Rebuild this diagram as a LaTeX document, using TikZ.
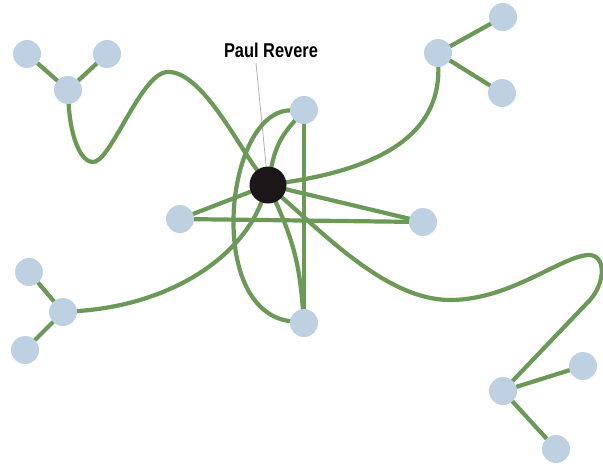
\documentclass[tikz,border=0pt]{standalone}
\usepackage{fontspec}
\newfontfamily\labfont{Liberation Sans}
\usetikzlibrary{backgrounds}
\definecolor{edgegreen}{HTML}{6A9A56}
\definecolor{nodeblue}{HTML}{BDD1E3}
\definecolor{hubblack}{HTML}{1B1718}
\tikzset{
  leaf/.style={circle,fill=nodeblue,draw=none,minimum size=28pt,inner sep=0pt},
  hub/.style={circle,fill=hubblack,draw=none,minimum size=37pt,inner sep=0pt},
  link/.style={draw=edgegreen,line width=4.2pt,line cap=round},
  pointer/.style={draw=black!30,line width=0.8pt},
  lbl/.style={inner sep=0pt,font=\labfont\bfseries\fontsize{20}{22}\selectfont}
}
\begin{document}
\begin{tikzpicture}[x=1pt,y=-1pt]
\useasboundingbox (0,0) rectangle (603,466);
% nodes
\node[hub]  (c)  at (268,185) {};
\node[leaf] (t)  at (304,110) {};
\node[leaf] (l)  at (180,219) {};
\node[leaf] (r)  at (423,222) {};
\node[leaf] (b)  at (304,323) {};
\node[leaf] (tlh) at (68,90) {};
\node[leaf] (tla) at (27,54) {};
\node[leaf] (tlb) at (107,54) {};
\node[leaf] (trh) at (438,53) {};
\node[leaf] (tra) at (503,17) {};
\node[leaf] (trb) at (502,93) {};
\node[leaf] (blh) at (63,312) {};
\node[leaf] (bla) at (29,272) {};
\node[leaf] (blb) at (25,350) {};
\node[leaf] (brh) at (503,391) {};
\node[leaf] (bra) at (583,366) {};
\node[leaf] (brb) at (556,449) {};
\node[lbl] (name) at (271,50) {\scalebox{0.82}[1]{Paul Revere}};
\coordinate (lp) at (256,63);
\begin{scope}[on background layer]
\fill[white] (0,0) rectangle (603,466);
\draw[pointer] (lp) -- (c);
% leaf clusters
\draw[link] (tlh) -- (tla);
\draw[link] (tlh) -- (tlb);
\draw[link] (trh) -- (tra);
\draw[link] (trh) -- (trb);
\draw[link] (blh) -- (bla);
\draw[link] (blh) -- (blb);
\draw[link] (brh) -- (bra);
\draw[link] (brh) -- (brb);
% star
\draw[link] (c) -- (l);
\draw[link] (c) -- (r);
\draw[link] (l) -- (r);
\draw[link] (t) -- (b);
\draw[link] (c) to[bend left=15] (t);
\draw[link] (c) to[bend left=10] (b);
\draw[link] (t) .. controls (225,112) and (205,310) .. (b);
% long curves
\draw[link] (c) .. controls (235,140) and (200,70) .. (167,72)
  .. controls (140,74) and (110,165) .. (92,162)
  .. controls (78,160) and (70,130) .. (tlh);
\draw[link] (c) .. controls (380,168) and (440,135) .. (trh);
\draw[link] (c) .. controls (240,258) and (170,305) .. (blh);
\draw[link] (c) .. controls (330,240) and (390,300) .. (450,300)
  .. controls (510,300) and (560,257) .. (588,255)
  .. controls (606,254) and (606,282) .. (590,300) -- (brh);
\end{scope}
\end{tikzpicture}
\end{document}
